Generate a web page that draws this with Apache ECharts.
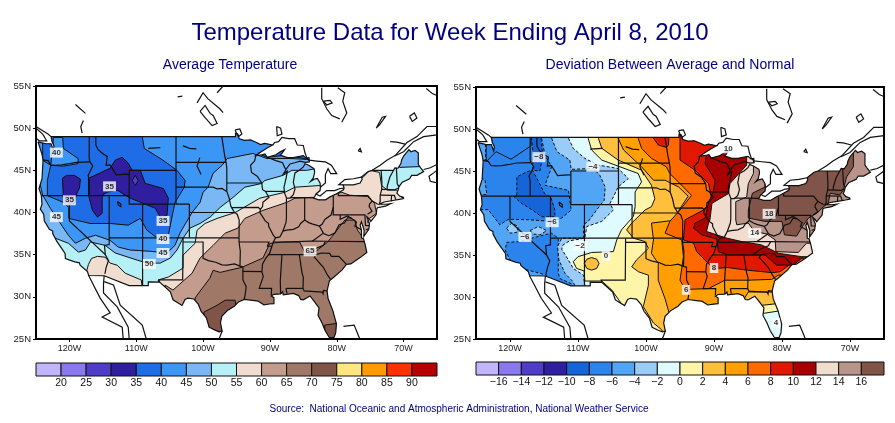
<!DOCTYPE html>
<html>
<head>
<meta charset="utf-8">
<style>html,body{margin:0;padding:0;background:#fff}#chart{width:895px;height:423px}</style>
<script src="https://cdn.jsdelivr.net/npm/echarts@6/dist/echarts.min.js"></script>
</head>
<body>
<div id="chart"></div>
<script>
// all map data is [lon, lat]
var lonTicks = [-120, -110, -100, -90, -80, -70];
var latTicks = [25, 30, 35, 40, 45, 50, 55];

var avgLevels = [15, 20, 25, 30, 35, 40, 45, 50, 55, 60, 65, 70, 75, 80, 85, 90, 95];
var avgColors = ['#c3b5fb', '#8a78ef', '#4f3cc8', '#2f1e9e', '#1f6de6', '#3c96f5', '#7ab8f5', '#b4f0f5', '#f0ddd0', '#c49c8e', '#a07868', '#805448', '#ffe680', '#ff9a00', '#ff3000', '#b80000'];
var devLevels = [-18, -16, -14, -12, -10, -8, -6, -4, -2, 0, 2, 4, 6, 8, 10, 12, 14, 16, 18];
var devColors = ['#c3b5fb', '#8a78ef', '#4f3cc8', '#2f1e9e', '#1565d8', '#2a84ec', '#52a5f5', '#9accfa', '#dffbff', '#fff5a8', '#ffbe3c', '#ffa000', '#ff6a00', '#e01800', '#a80000', '#f0ddd0', '#b8948a', '#805448'];

var usOutline = [[-124.7,48.38],[-123.5,48.15],[-122.75,48.15],[-122.4,47.4],[-122.3,47.9],[-122.6,48.4],[-122.75,49],[-95.15,49],[-95.15,49.38],[-94.8,49.3],[-94.6,48.75],[-93.8,48.55],[-92.9,48.6],[-92,48.3],[-91.4,48.05],[-90.8,48.2],[-89.6,48],[-90.3,47.7],[-91.3,47.2],[-92.1,46.75],[-91.2,46.85],[-90.75,46.95],[-90.4,46.55],[-89.1,46.85],[-88.45,47.2],[-87.8,47.45],[-88.2,47],[-88.45,46.8],[-87.4,46.5],[-86.5,46.5],[-85,46.75],[-84.6,46.45],[-84.15,46.5],[-84.1,46],[-84.7,45.95],[-85.5,46.1],[-86.3,45.9],[-87,45.75],[-87.6,45.1],[-88,44.55],[-87.4,44.9],[-87.55,44.2],[-87.8,43.3],[-87.9,43],[-87.8,42.3],[-87.5,41.7],[-87,41.7],[-86.5,42.1],[-86.25,42.8],[-86.5,43.6],[-86.25,44.7],[-85.6,45],[-85,45.4],[-84.75,45.78],[-84.2,45.6],[-83.4,45.2],[-83.3,44.8],[-83.5,44.1],[-83.9,43.7],[-83.4,43.95],[-82.9,44.05],[-82.5,43.5],[-82.45,43],[-82.5,42.6],[-83.1,42.2],[-83.3,41.9],[-83.45,41.7],[-82.7,41.5],[-81.7,41.5],[-81,41.85],[-80.1,42.2],[-79,42.7],[-78.9,42.9],[-79.05,43.27],[-77.5,43.27],[-76.5,43.5],[-76.2,43.95],[-76.3,44.2],[-75.3,44.85],[-74.7,45],[-71.5,45],[-71.3,45.3],[-70.85,45.25],[-70.4,45.8],[-70.3,46.2],[-70,46.7],[-69.2,47.45],[-68.9,47.2],[-68.3,47.35],[-67.8,47.07],[-67.8,45.7],[-67.45,45.3],[-67,44.85],[-68,44.4],[-68.8,44.4],[-69.1,44],[-70.2,43.6],[-70.7,43.05],[-70.8,42.7],[-71,42.3],[-70.6,41.95],[-70.05,41.8],[-70,41.65],[-70.65,41.55],[-71.4,41.45],[-72.9,41.25],[-73.65,40.98],[-72.6,40.98],[-71.9,41.05],[-72.7,40.75],[-73.9,40.57],[-74,40.45],[-74.1,39.75],[-74.9,38.95],[-75.1,39.2],[-75.5,39.5],[-75.1,38.7],[-75.2,38],[-75.95,37.15],[-75.9,37.9],[-76.3,38.9],[-76.5,38.5],[-76.3,37.9],[-76.3,37],[-76,36.9],[-75.75,36.2],[-75.5,35.25],[-76.5,34.65],[-77.9,33.9],[-78.55,33.85],[-79.2,33.2],[-80.5,32.3],[-81.1,31.9],[-81.45,30.7],[-81.3,29.8],[-80.6,28.4],[-80.05,26.8],[-80.15,25.75],[-80.4,25.2],[-81.1,25.15],[-81.75,26],[-82.2,26.9],[-82.8,27.8],[-82.65,28.7],[-83.4,29.5],[-84,30.1],[-85,29.65],[-85.4,29.7],[-85.7,30.15],[-86.5,30.4],[-88,30.25],[-88.1,30.6],[-88.4,30.35],[-89.4,30.3],[-89.8,30.1],[-89.4,29.9],[-89.4,29.2],[-90.1,29.15],[-90.9,29.05],[-91.8,29.5],[-92.3,29.55],[-93.85,29.7],[-94.7,29.4],[-95.3,28.9],[-96.4,28.35],[-97.2,27.7],[-97.4,26.9],[-97.15,25.95],[-97.6,25.85],[-98.2,26.05],[-99.1,26.4],[-99.5,27.5],[-100.3,28.3],[-100.7,29.1],[-101.4,29.75],[-102.3,29.85],[-102.7,29.7],[-103.15,28.98],[-104.5,29.65],[-104.9,30.6],[-106.5,31.75],[-108.2,31.78],[-108.2,31.33],[-111.07,31.33],[-114.8,32.5],[-117.12,32.53],[-117.3,33],[-118.4,33.75],[-118.5,34.03],[-119.2,34.15],[-120.6,34.55],[-120.65,35.15],[-121.9,36.6],[-122.5,37.5],[-122.5,37.8],[-123,38],[-123.75,39],[-123.85,39.8],[-124.35,40.4],[-124.1,41],[-124.2,42],[-124.55,42.85],[-124.1,44],[-123.95,46.2],[-124.1,46.9],[-124.7,48.38]];

var stateLines = [
  [[-124,46.25],[-123.2,46.15],[-122.8,45.65],[-122.2,45.6],[-121.2,45.65],[-120,45.8],[-119,45.95],[-116.92,46]],
  [[-117.03,49],[-117.04,46.4],[-116.92,46],[-116.5,45.5],[-116.85,44.95],[-117.2,44.4],[-117.03,43.8],[-117.03,42]],
  [[-124.2,42],[-111.05,42]],
  [[-120,42],[-120,39],[-114.63,35],[-114.15,34.3],[-114.5,33.5],[-114.7,32.72]],
  [[-114.05,42],[-114.05,36.2],[-114.75,36.1],[-114.63,35]],
  [[-114.05,37],[-94.62,37]],
  [[-116.05,49],[-116.05,48],[-115.7,47.45],[-114.9,46.9],[-114.35,46.65],[-114.5,45.6],[-113.9,45.65],[-113.45,45.05],[-113,44.45],[-111.5,44.55],[-111.05,44.5]],
  [[-111.05,45],[-104.05,45]],
  [[-111.05,45],[-111.05,41],[-102.05,41]],
  [[-109.05,41],[-109.05,31.33]],
  [[-104.05,49],[-104.05,41]],
  [[-104.05,45.94],[-96.56,45.94]],
  [[-104.05,43],[-98.5,43],[-97.9,42.8],[-97.2,42.85],[-96.45,42.5]],
  [[-102.05,41],[-102.05,37]],
  [[-102.05,40],[-95.3,40]],
  [[-103,37],[-103.05,32],[-106.6,32],[-106.5,31.75]],
  [[-103,36.5],[-100,36.5],[-100,34.56],[-99.2,34.3],[-98.1,34.1],[-97.2,33.8],[-96.4,33.75],[-95.3,33.9],[-94.48,33.64],[-94.04,33.55],[-94.04,32],[-93.55,31.2],[-93.7,30.3],[-93.85,29.7]],
  [[-94.62,37],[-94.62,36.5],[-94.43,35.4],[-94.48,33.64]],
  [[-94.62,36.5],[-90.15,36.5],[-90.37,36],[-89.7,36]],
  [[-95.3,40],[-94.9,39.8],[-94.6,39.1],[-94.62,37]],
  [[-97.2,49],[-96.8,46.9],[-96.56,45.94],[-96.45,45.3],[-96.45,42.5],[-96.1,41.7],[-95.85,40.75],[-95.3,40]],
  [[-96.45,43.5],[-91.22,43.5]],
  [[-95.77,40.58],[-91.73,40.6],[-91.42,40.38]],
  [[-91.22,43.5],[-91.1,42.7],[-90.65,42.5],[-90.15,41.8],[-91.05,41.2],[-91.1,40.7],[-91.42,40.38],[-91.5,40],[-90.7,39],[-90.2,38.7],[-90.2,38.4],[-89.5,37.3],[-89.15,37],[-89.5,36.5],[-89.7,36],[-90.05,35.15],[-90.6,34.6],[-91.1,33.9],[-91.2,33],[-91,32.4],[-91.6,31],[-89.75,31],[-89.8,30.2]],
  [[-92.1,46.75],[-92.3,46.1],[-92.9,45.6],[-92.75,44.75],[-91.9,44.3],[-91.22,43.5]],
  [[-90.65,42.5],[-87.8,42.5]],
  [[-90.4,46.55],[-89.1,46.15],[-88.1,45.9],[-87.8,45.35],[-87.6,45.1]],
  [[-87.53,41.7],[-87.53,39.35],[-87.6,38.8],[-88.05,37.8]],
  [[-89.15,37],[-88.5,37.1],[-88.05,37.8],[-87.5,37.9],[-86.5,38],[-85.7,38.3],[-85.4,38.7],[-84.8,39.1],[-84.2,38.8],[-83.7,38.65],[-82.6,38.4],[-82.2,38.6],[-81.75,39.2],[-80.85,39.7],[-80.52,40.64]],
  [[-87,41.76],[-84.8,41.76],[-83.45,41.73]],
  [[-84.8,41.76],[-84.8,39.1]],
  [[-80.52,41.98],[-80.52,39.72],[-75.79,39.72],[-75.7,38.46],[-75.05,38.45]],
  [[-79.76,42.27],[-79.76,42],[-75.35,42],[-74.7,41.36],[-75.1,41],[-75.15,40.7],[-74.72,40.15],[-75.4,39.8]],
  [[-74.7,41.36],[-73.9,41]],
  [[-75.65,37.95],[-75.25,38.03]],
  [[-79.48,39.72],[-79.48,39.2],[-78.4,39.6],[-77.75,39.3],[-77.05,38.85],[-77.3,38.4],[-76.3,37.95]],
  [[-77.75,39.3],[-78.35,39.4],[-78.85,38.75],[-79.65,38.55],[-80.3,37.55],[-81.2,37.25],[-81.95,37.5]],
  [[-82.6,38.4],[-82,37.55],[-83.68,36.6]],
  [[-75.87,36.55],[-81.68,36.59],[-83.68,36.6],[-88.05,36.5],[-89.5,36.5]],
  [[-81.68,36.59],[-82,36.1],[-83.1,35.75],[-84.3,35]],
  [[-90.3,35],[-83.1,35],[-82.3,35.2],[-81.05,35.15],[-80.8,34.8],[-79.67,34.8],[-78.55,33.85]],
  [[-83.1,35],[-83.35,34.7],[-82,33.5],[-81.4,32.6],[-80.9,32.05]],
  [[-85.6,35],[-85.2,32.85],[-85,32.3],[-85.05,31],[-84.87,30.7],[-82.2,30.57],[-82.05,30.36],[-82,30.75],[-81.45,30.7]],
  [[-87.6,31],[-85.05,31]],
  [[-87.6,31],[-87.45,30.4]],
  [[-88.2,35],[-88.45,31.9],[-88.4,30.35]],
  [[-94.04,33.02],[-91.2,33]],
  [[-73.35,45],[-73.25,43.6],[-73.27,42.75],[-73.5,42.05],[-73.5,41.3],[-73.65,41]],
  [[-71.5,45],[-72.05,44.2],[-72.45,43.1],[-72.46,42.73]],
  [[-73.27,42.75],[-71.3,42.7],[-70.85,42.87]],
  [[-71.08,45.3],[-70.95,43.4],[-70.7,43.07]],
  [[-73.5,42.05],[-71.38,42.02],[-71.15,41.5]],
  [[-71.8,42.02],[-71.85,41.32]]
];

var foreignLines = [
  [[-89.6,48],[-89.3,48.3],[-88.7,48.4],[-88.2,48.9],[-87.2,48.75],[-86.3,48.75],[-85.9,48],[-85,47.95],[-84.8,47.2],[-84.5,46.5],[-84.1,46.2],[-83,46.1],[-81.7,46],[-80.8,45.6],[-80,44.6],[-80.9,44.6],[-81.3,45.2],[-81.7,44.5],[-81.7,43.5],[-82.45,43]],
  [[-83.1,42.2],[-82.5,41.95],[-81.5,42.6],[-80.3,42.6],[-79.5,42.85],[-78.9,42.9]],
  [[-79.05,43.27],[-79.7,43.3],[-78.8,43.9],[-77.5,44],[-76.3,44.2]],
  [[-74.7,45],[-73.5,45.6],[-72.5,46.2],[-71.2,46.8],[-69.5,48.3],[-68,49],[-66.5,50.2],[-65,50.2]],
  [[-71.35,46.7],[-70,47.2],[-68.5,48.4],[-67,49],[-65,49.2]],
  [[-72,48.4],[-71,48.35],[-69.8,48.1]],
  [[-67,45.1],[-66,45.3],[-65,45.7]],
  [[-65,43.5],[-66,43.7],[-66.2,44.3],[-65.5,44.7],[-65,45]],
  [[-66.6,54.7],[-65.7,54.1],[-65.1,53.9]],
  [[-82.25,54.8],[-82.25,53.5],[-81.5,52.3],[-80.75,51.5],[-79.55,51.1]],
  [[-79.85,54.8],[-78.8,54.2],[-79.1,53.2],[-78.5,51.8],[-79.25,50.7]],
  [[-82,53.2],[-81,53.3],[-80.7,53],[-81.5,52.75],[-82,53.2]],
  [[-100.9,53],[-100,54.2],[-99.3,53.5],[-97.5,52.3],[-97,51.85]],
  [[-97.9,54.2],[-97,55]],
  [[-100.45,52],[-99.7,51.25],[-98.65,50.3],[-97.9,50.55],[-98.5,51.5],[-98.95,51.75],[-99.7,52.7],[-100.45,52]],
  [[-103.8,53.7],[-103.1,53.8]],
  [[-119.1,52.8],[-117.6,51.75]],
  [[-117.9,50.9],[-118.3,50.2],[-118.1,49.4]],
  [[-125,50],[-124,49.3],[-123.4,48.5],[-124.5,48.5],[-125,48.8]],
  [[-125,50.2],[-124,49.7],[-123.2,49.3],[-122.75,49]],
  [[-89,50.2],[-88.4,50],[-88.2,49.3],[-88.9,49.1],[-89,50.2]],
  [[-74.1,50],[-73.2,51.3],[-72.7,51.4],[-73.6,50.4],[-74.1,50]],
  [[-69.1,51.4],[-68.4,51.8],[-68,51.2],[-68.7,50.8],[-69.1,51.4]],
  [[-76.8,47.3],[-76.5,47.6],[-76.3,47.2],[-76.8,47.3]],
  [[-95.2,49.8],[-94.5,49.9],[-94.2,49.3],[-94.7,49],[-95,49.4],[-95.2,49.8]],
  [[-112.8,41.3],[-112.3,41],[-112.3,40.7],[-112.7,40.9],[-112.8,41.3]],
  [[-108.2,47.6],[-106.4,47.7]],
  [[-103,47.9],[-102,47.6],[-101,47.55]],
  [[-100.5,46.5],[-100.9,45.5],[-100.3,44.5]],
  [[-79,26.5],[-77.4,26.65],[-77,25.9],[-76.6,25.1]],
  [[-117.15,32.55],[-115.4,29.85],[-113.9,28.1],[-115.1,27.6],[-112.1,26.4],[-111.95,25]],
  [[-114.8,32.5],[-114.9,31.6],[-114.9,30.45],[-112.85,28.8],[-111.2,26.4],[-111.05,25]],
  [[-114.8,31.8],[-113.4,31.4],[-112.4,29],[-109.1,26.65],[-108.5,25]],
  [[-97.15,25.95],[-97.6,25]]
];

var wholeBox = [[-130,20],[-60,20],[-60,60],[-130,60]];

// average temperature contours
var avgOver45 = [[-125.8,45],[-124.6,44.05],[-124,42.05],[-122.85,40.5],[-121.95,39.45],[-121.05,38.35],[-120.15,37.3],[-119.1,36.35],[-117.6,36.95],[-116.1,37.3],[-113.9,36.7],[-112.7,35.9],[-110.9,35.55],[-107.9,35.4],[-105.4,35.2],[-104.2,36.1],[-103.4,37.65],[-101.65,40],[-100.45,41.2],[-100,42.4],[-99.25,43],[-98.5,44.65],[-97.15,45.6],[-96.4,46.4],[-92.55,47],[-90.45,46.4],[-87,46.4],[-84.5,46.3],[-82.25,45.6],[-78.8,46.8],[-70.6,48.5],[-63,51],[-63,24.3],[-125.8,24.3]];
var avgOver50 = [[-124.3,37.65],[-122.1,36.95],[-120.15,36.35],[-118.65,35.3],[-117.6,35.55],[-116.85,36.5],[-114.65,36.1],[-113.15,35.2],[-109.85,34.35],[-108.35,34],[-106.4,34],[-104.9,34.6],[-103.9,35.55],[-103,36.95],[-101.95,38.15],[-100.45,38.7],[-98.95,39.45],[-97.45,40.6],[-95.5,41.8],[-93.75,43],[-91.2,43.45],[-90.75,43.8],[-88.05,44.4],[-86.7,45],[-84.5,45],[-82.1,45.35],[-78.8,47.35],[-71.35,47.95],[-70.6,45.35],[-67.3,45.45],[-63.15,46.2],[-63,24.3],[-125.8,24.3],[-125.8,37.65]];
var avgOver55East = [[-106.7,32],[-105.2,32.35],[-103,33.4],[-103,34.95],[-101.2,36.35],[-100.9,37.9],[-99.7,38.7],[-97.9,39.3],[-95.2,40],[-91.5,41.7],[-87.75,42.4],[-86.25,43],[-82.55,43.2],[-78.5,43.6],[-76.1,44.15],[-75.05,45],[-73.6,44.75],[-73.3,43.2],[-72.4,42.65],[-71.05,42.65],[-70.3,41.8],[-63.1,41.45],[-63,24.3],[-106.7,24.3]];
var avgOver55West = [[-117.6,32.55],[-117.15,33.85],[-116.7,34.55],[-115.8,34.8],[-114.65,34.7],[-113.9,34],[-112.85,33.75],[-111.65,32.8],[-109.25,32],[-109,30.4],[-117.6,30.4]];
var avgOver60 = [[-105.7,31.4],[-104.5,30.8],[-101.65,32.8],[-100.45,34.6],[-98.5,36.1],[-96.7,37.55],[-94.8,38.15],[-93.75,39.3],[-91.05,40.25],[-87.5,41.2],[-86.25,41.7],[-83.6,41.8],[-82.1,41.7],[-79.25,42.4],[-78.05,42.05],[-75.4,41.9],[-74.35,41.1],[-74.05,39.9],[-75.1,39.3],[-75.4,38.85],[-63.1,38.5],[-63,24.3],[-105.7,24.3]];
var avgOver65 = [[-101.2,29.85],[-100.9,30.2],[-99,32.2],[-98.5,33.15],[-97.45,32.9],[-94.2,33.5],[-91.05,34.6],[-90,36.35],[-88.05,36.5],[-85.55,36.5],[-84.8,35.3],[-83.3,35.3],[-81.35,36.5],[-78.8,39.1],[-77.3,39.1],[-76.9,37.9],[-75.8,36.7],[-63.1,36.7],[-63,24.3],[-101.2,24.3]];
var avgOver70Texas = [[-99.85,28.2],[-97.9,29],[-96.7,29.6],[-95.2,29.6],[-94.45,24.3],[-100.45,24.3]];
var avgOver70Florida = [[-81.8,26.65],[-79.55,26.9],[-78.8,24.3],[-81.8,24.3]];
var avgUnder40 = [[-123.6,50.9],[-109,50.9],[-109.1,49],[-108.8,47.6],[-106,46.2],[-103.9,45],[-102.7,43.8],[-102.8,43],[-104.2,41.2],[-104.9,38.5],[-105.2,37.3],[-106.9,37],[-108.4,37.9],[-109.4,39.3],[-111.2,38.5],[-113.9,38.7],[-116.9,38.7],[-120.1,39.3],[-120.1,40.6],[-120.9,41.2],[-123.3,42],[-123.3,43.8],[-122.8,45.6],[-124,46.2],[-124,49]];
var avgPocketWash = [[-121,48.9],[-120.9,47.6],[-118.7,46.4],[-118.7,45.8],[-120.9,45.5],[-122.8,45.6],[-122.5,47.6],[-122.4,48.9]];
var avgUnder40Superior = [[-91.8,47],[-88.8,48.1],[-85.55,47.7],[-84.35,46.3],[-87.5,46.8],[-90.45,46.55]];
var avgUnder35West = [[-121.05,44.05],[-120.45,44.4],[-119.25,44.4],[-118.35,43.95],[-118.5,42.9],[-119,42.05],[-119.25,41.1],[-120.15,41.1],[-120.9,41.7]];
var avgUnder35Rockies = [[-117.15,44.05],[-113.9,45.25],[-113.15,46.2],[-112.1,46.55],[-111.2,45.85],[-110.6,45],[-109.4,45],[-108.65,43.45],[-105.95,42.85],[-105.2,41.7],[-105.4,39.65],[-106.4,39.45],[-107.15,40.5],[-107.45,40.6],[-110.9,41.7],[-112.85,42.65],[-114.35,42.4],[-115.1,42.05],[-115.1,39.9],[-115.8,39.45],[-116.55,40.25],[-117.15,42.05]];
var avgUnder30 = [[-110.6,43.8],[-110.15,44.4],[-109.7,43.8],[-110.15,43.2]];

// deviation contours
var devWashLine = [[-123.5,46.1],[-122.05,47.3],[-119.85,46.4],[-116.9,48],[-116.9,50],[-123.5,50]];
var devOverM6 = [[-115.35,48.9],[-114.86,46.9],[-113.87,45.5],[-114.86,43.3],[-111.4,42.7],[-111,40.35],[-112.4,39.4],[-113.9,39],[-117.3,39.2],[-120.25,39.25],[-121.5,38.6],[-123.2,40.4],[-124.7,40.4],[-125.1,38],[-122.2,35.2],[-119.8,33.4],[-117.3,32.4],[-114.9,32.4],[-114.6,32.6],[-117.8,33.3],[-120,34.4],[-120.7,35.6],[-120.5,36.5],[-118.5,36.6],[-116.8,37],[-113.9,37.6],[-112.9,37],[-112.9,32.8],[-112.65,32.2],[-110.9,31.55],[-110,30.4],[-100,24],[-60,24],[-60,60],[-115.35,60]];
var devCoastWash = [[-125,49],[-123.8,49],[-123.6,48.1],[-123.6,46.3],[-125,46.3]];
var devCoastOregon = [[-125,44.3],[-123.7,44],[-123.4,42.2],[-125,42.2]];
var devOverM4 = [[-113.87,48.9],[-113.1,47.3],[-111.2,46.3],[-111,45.2],[-107.75,45.3],[-106.8,44.5],[-106,43.1],[-106.15,41.5],[-106.9,40.75],[-108.5,39],[-109.2,38.6],[-109.2,37],[-112.4,37],[-113,36],[-112.8,34.4],[-111.9,32.8],[-110.7,31.8],[-110,30.4],[-100,24],[-60,24],[-60,60],[-113.87,60]];
var devPocketSierra = [[-120.5,38.2],[-119.75,38.8],[-118.8,38.4],[-119,37.7],[-120,37.6]];
var devPocketNevada = [[-117.05,37.9],[-115.85,38.4],[-114.6,37.9],[-115.6,37.4],[-116.55,37.5]];
var devOverM2 = [[-111.4,48.9],[-110.7,47.7],[-109,46.5],[-107,45.7],[-104.1,45.3],[-102.6,44.1],[-104.1,43.1],[-104.8,41.9],[-105.3,41.15],[-104.8,40.36],[-106.5,39],[-108.7,38.4],[-109,37],[-111.2,36.7],[-112.2,36.2],[-112.4,35.7],[-111.7,34.8],[-110.7,33.4],[-109.2,32.6],[-109,31.4],[-105,24],[-60,24],[-60,60],[-111.4,60]];
var devOver0 = [[-108.5,48.9],[-108,47.5],[-106.5,46.3],[-101.15,44.7],[-100.65,43.7],[-101.6,42.5],[-101.6,40.75],[-101.85,39.6],[-103.6,38],[-104.3,36.8],[-104.8,35.4],[-108,35.3],[-110,34.8],[-110.7,34.2],[-110.2,33.4],[-109.1,33.1],[-109,31.9],[-106.5,31.9],[-105,30.8],[-100,25],[-82.75,28.05],[-79.55,28.45],[-60,28.5],[-60,60],[-108.5,60]];
var devOver2 = [[-107,48.9],[-106.5,47.7],[-104.1,46.3],[-100.65,45.1],[-99.2,43.3],[-98.7,41.7],[-99.2,40.75],[-100.15,40.35],[-102.1,38.8],[-102.85,38],[-101.85,37],[-100.15,36.6],[-99.65,35.8],[-101.4,34.4],[-102.1,33.6],[-101.1,33],[-99.65,32.6],[-99.65,31.4],[-100.4,28.85],[-98.9,26.9],[-97.7,26.1],[-97,25],[-83,29],[-80.3,29.25],[-60,29.5],[-60,60],[-107,60]];
var devOver2Blob = [[-109.07,34],[-108.7,34.5],[-108,34.7],[-107.25,34.5],[-106.9,34],[-107.25,33.4],[-108,33.2],[-108.7,33.4]];
var devOver4 = [[-104.1,48.9],[-103.3,47.5],[-100.65,45.5],[-98.9,43.9],[-97.2,43.9],[-95.2,43.1],[-93.8,42],[-95.15,40.35],[-95.7,39.15],[-99.2,38.8],[-98.9,36.8],[-99.2,35.2],[-98.2,34],[-98.2,32],[-97.2,29.8],[-96.6,28.1],[-96,26.5],[-92.3,28.5],[-85.7,29.6],[-84.95,30.6],[-81.27,30.6],[-80.3,30.8],[-60,31],[-60,60],[-104.1,60]];
var devOver6 = [[-101.15,48.9],[-100.65,47.7],[-99.2,46.5],[-97,45.5],[-96.5,44.7],[-95,43.5],[-93.3,42.1],[-95,40.35],[-96.5,39],[-97.2,37.6],[-94.75,36.8],[-94.5,34.8],[-95,32],[-94.25,30.9],[-90.8,31],[-88.4,32],[-85,32],[-81.5,32.1],[-80.55,32.6],[-60,33],[-60,60],[-101.15,60]];
var devOver8 = [[-95,48.9],[-95,46.3],[-92.8,45.1],[-90.8,43.5],[-90.3,41.5],[-91.55,40.35],[-94.25,39.2],[-94.5,36.8],[-93,36.4],[-92.55,35.4],[-91.1,34.2],[-90.1,33.4],[-87.9,33.5],[-85.2,33.2],[-81.5,32.9],[-80.3,33],[-77.6,34.6],[-60,35],[-60,60],[-95,60]];
var devOver8Dakota = [[-98.9,48.9],[-98.2,48.1],[-97,47.8],[-96.7,48.1],[-96.6,49.5],[-99,49.5]];
var devOver10 = [[-91.1,47.1],[-91.3,45.9],[-89.85,43.9],[-90.1,42.5],[-90.8,41.3],[-91.3,39.4],[-92.8,38.8],[-93,38.2],[-91.8,37.4],[-89.6,36.9],[-89.35,35.4],[-87.9,35],[-82.5,35],[-80.8,33.8],[-78.3,33.8],[-76.85,34.8],[-60,35],[-60,55],[-85,55],[-85.2,46.7],[-87.9,47.7],[-90.3,47.5]];
var devOver12 = [[-85.2,45.7],[-87.65,43.5],[-87.9,42.3],[-90.3,41.15],[-90.6,39.16],[-90.8,38.8],[-91.1,37.8],[-89.6,37.4],[-88.1,37],[-85.9,36.6],[-83,36.2],[-80.5,35.2],[-77.1,34.8],[-60,34.8],[-60,55],[-85.2,55]];
var devOver14 = [[-84.2,44.7],[-84.95,43.5],[-85.2,41.9],[-86.8,41.35],[-86.8,39.16],[-86.65,38.6],[-84.95,38.8],[-84.05,37.8],[-82.25,37.5],[-81,36.8],[-80.9,35.4],[-77.6,35.3],[-76.4,36.4],[-60,36.4],[-60,55],[-84.2,55]];
var devOver16 = [[-82.5,43.1],[-84.35,42.35],[-84.95,40.35],[-84.95,39.4],[-82.5,39],[-80,39],[-79.65,37.4],[-77.85,37.25],[-77,38.4],[-76.1,39.4],[-74.9,39.96],[-73.9,40.75],[-73.2,41.15],[-72.9,42.35],[-71.5,42.15],[-71,42.7],[-70.5,44.3],[-69.5,45.5],[-69.5,47.1],[-71.7,47.9],[-82.5,50]];
var devUnder8 = [[-119,42.1],[-119,44.3],[-117.55,44.9],[-116.7,45.1],[-115.9,43.9],[-114.9,42.3],[-114,41.9],[-113.4,40.35],[-113.4,39.55],[-115.35,39.55],[-116.7,40.35],[-118.3,41.15],[-119.5,42]];
var devUnder8North = [[-116.9,49.5],[-115.5,49.5],[-115.2,46.9],[-115.6,45],[-116.7,45.1],[-116.6,47]];

var avgLabels = [[-121.95,47.1,'40'],[-120,41.45,'35'],[-114,43.1,'35'],[-121.95,39.45,'45'],[-106,39,'35'],[-106,36.85,'40'],[-106,35.2,'45'],[-108.05,33.9,'50'],[-84,35.4,'65']];
var devLabels = [[-115.75,46.65,'−8'],[-107.8,45.5,'−4'],[-113.8,38.9,'−6'],[-117.8,37.15,'−6'],[-109.7,36.05,'−2'],[-105.9,34.9,'0'],[-80.9,26.9,'4'],[-84,37.6,'14'],[-81.9,39.9,'18'],[-87.9,47.7,'10'],[-90,33.45,'8'],[-94.1,30.85,'6']];

// painter's order, warm regions first then the cold ones on top
var avgBands = [
  {ring: wholeBox, color: avgColors[5], line: false},
  {ring: avgOver45, color: avgColors[6]},
  {ring: avgOver50, color: avgColors[7]},
  {ring: avgOver55East, color: avgColors[8]},
  {ring: avgOver55West, color: avgColors[8]},
  {ring: avgOver60, color: avgColors[9]},
  {ring: avgOver65, color: avgColors[10]},
  {ring: avgOver70Texas, color: avgColors[11]},
  {ring: avgOver70Florida, color: avgColors[11]},
  {ring: avgUnder40, color: avgColors[4]},
  {ring: avgPocketWash, color: avgColors[5]},
  {ring: avgUnder40Superior, color: avgColors[4]},
  {ring: avgUnder35West, color: avgColors[3]},
  {ring: avgUnder35Rockies, color: avgColors[3]},
  {ring: avgUnder30, color: avgColors[2]}
];
var devBands = [
  {ring: wholeBox, color: devColors[5], line: false},
  {ring: devWashLine, color: devColors[5]},
  {ring: devOverM6, color: devColors[6], dash: true},
  {ring: devCoastWash, color: devColors[6], dash: true},
  {ring: devCoastOregon, color: devColors[6], dash: true},
  {ring: devOverM4, color: devColors[7], dash: true},
  {ring: devPocketSierra, color: devColors[7], dash: true},
  {ring: devPocketNevada, color: devColors[7], dash: true},
  {ring: devOverM2, color: devColors[8], dash: true},
  {ring: devOver0, color: devColors[9]},
  {ring: devOver2, color: devColors[10]},
  {ring: devOver2Blob, color: devColors[10]},
  {ring: devOver4, color: devColors[11]},
  {ring: devOver6, color: devColors[12]},
  {ring: devOver8, color: devColors[13]},
  {ring: devOver8Dakota, color: devColors[13]},
  {ring: devOver10, color: devColors[14]},
  {ring: devOver12, color: devColors[15]},
  {ring: devOver14, color: devColors[16]},
  {ring: devOver16, color: devColors[17]},
  {ring: devUnder8, color: devColors[4], dash: true},
  {ring: devUnder8North, color: devColors[4], dash: true}
];

// the fills run over Lake Michigan, so the clip skips that stretch of the shore
var shoreFrom = usOutline.findIndex(function (p) { return p[0] === -84.7; });
var shoreTo = usOutline.findIndex(function (p) { return p[0] === -84.75; });
var fillOutline = usOutline.slice(0, shoreFrom + 1).concat(usOutline.slice(shoreTo));

var allLines = [usOutline].concat(stateLines, foreignLines);
var fontName = 'Arial, "Liberation Sans", sans-serif';
var navy = '#000080';

function mapAxes(index) {
  return {
    x: {
      type: 'value', gridIndex: index, min: -125, max: -65,
      splitLine: {show: false},
      axisLine: {show: false},
      axisTick: {show: true, length: 3, customValues: lonTicks, lineStyle: {color: '#000'}},
      axisLabel: {customValues: lonTicks, color: '#222', fontSize: 9, fontFamily: fontName, margin: 5,
        formatter: function (v) { return (-v) + 'W'; }}
    },
    y: {
      type: 'value', gridIndex: index, min: 25, max: 55,
      splitLine: {show: false},
      axisLine: {show: false},
      axisTick: {show: true, length: 3, customValues: latTicks, lineStyle: {color: '#000'}},
      axisLabel: {customValues: latTicks, color: '#222', fontSize: 9.5, fontFamily: fontName, margin: 5,
        formatter: function (v) { return v + 'N'; }}
    }
  };
}

function legendAxes(index, levels) {
  return {
    x: {
      type: 'value', gridIndex: index, min: levels[0], max: levels[levels.length - 1],
      interval: levels[1] - levels[0],
      splitLine: {show: false}, axisLine: {show: false}, axisTick: {show: false},
      axisLabel: {color: '#111', fontSize: 10.5, fontFamily: fontName, margin: 2, showMinLabel: false, showMaxLabel: false,
        formatter: function (v) { return v < 0 ? '−' + (-v) : '' + v; }}
    },
    y: {type: 'value', gridIndex: index, min: 0, max: 1, show: false}
  };
}

function mapSeries(index, bands, labels) {
  return [
    {
      type: 'custom', xAxisIndex: index, yAxisIndex: index, z: 2, silent: true, animation: false,
      data: bands.map(function (b, i) { return [i, i]; }),
      renderItem: function (params, api) {
        var band = bands[params.dataIndex];
        return {
          type: 'polygon',
          shape: {points: band.ring.map(function (p) { return api.coord(p); })},
          clipPath: {type: 'polygon', shape: {points: fillOutline.map(function (p) { return api.coord(p); })}},
          style: {
            fill: band.color,
            stroke: band.line === false ? null : '#111',
            lineWidth: 1,
            lineDash: band.dash ? [3, 2] : null
          }
        };
      }
    },
    {
      type: 'custom', xAxisIndex: index, yAxisIndex: index, z: 3, silent: true, animation: false, clip: true,
      data: allLines.map(function (l, i) { return [i, i]; }),
      renderItem: function (params, api) {
        return {
          type: 'polyline',
          shape: {points: allLines[params.dataIndex].map(function (p) { return api.coord(p); })},
          style: {fill: null, stroke: '#111', lineWidth: 1.2}
        };
      }
    },
    {
      type: 'scatter', xAxisIndex: index, yAxisIndex: index, z: 4, silent: true, animation: false,
      symbolSize: 1, itemStyle: {color: 'rgba(0,0,0,0)'},
      data: labels,
      label: {
        show: true, position: 'inside', color: '#000', backgroundColor: '#fff', padding: [1, 2],
        fontSize: 8, fontWeight: 'bold', fontFamily: fontName,
        formatter: function (p) { return p.value[2]; }
      }
    }
  ];
}

function legendSeries(index, levels, colors) {
  return {
    type: 'custom', xAxisIndex: index, yAxisIndex: index, z: 2, silent: true, animation: false,
    data: colors.map(function (c, i) { return [levels[i], levels[i + 1]]; }),
    renderItem: function (params, api) {
      var a = api.coord([api.value(0), 1]);
      var b = api.coord([api.value(1), 0]);
      return {
        type: 'rect',
        shape: {x: a[0], y: a[1], width: b[0] - a[0], height: b[1] - a[1]},
        style: {fill: colors[params.dataIndex], stroke: '#111', lineWidth: 1}
      };
    }
  };
}

var axes = [mapAxes(0), mapAxes(1), legendAxes(2, avgLevels), legendAxes(3, devLevels)];

var option = {
  backgroundColor: '#fff',
  title: [
    {text: 'Temperature Data for Week Ending April 8, 2010', left: 445, top: 16, textAlign: 'center',
      textStyle: {color: navy, fontSize: 24, fontWeight: 'normal', fontFamily: fontName}},
    {text: 'Average Temperature', left: 225, top: 53, textAlign: 'center',
      textStyle: {color: navy, fontSize: 14, fontWeight: 'normal', fontFamily: fontName}},
    {text: 'Deviation Between Average and Normal', left: 665, top: 53, textAlign: 'center',
      textStyle: {color: navy, fontSize: 14, fontWeight: 'normal', fontFamily: fontName}},
    {text: 'Source:  National Oceanic and Atmospheric Administration, National Weather Service', left: 454, top: 399, textAlign: 'center',
      textStyle: {color: navy, fontSize: 10, fontWeight: 'normal', fontFamily: fontName}}
  ],
  grid: [
    {left: 36, top: 86, width: 401, height: 253, show: true, borderColor: '#000', borderWidth: 2, backgroundColor: '#fff'},
    {left: 476, top: 87, width: 408, height: 252, show: true, borderColor: '#000', borderWidth: 2, backgroundColor: '#fff'},
    {left: 36, top: 363, width: 401, height: 13},
    {left: 476, top: 362, width: 408, height: 13}
  ],
  xAxis: axes.map(function (a) { return a.x; }),
  yAxis: axes.map(function (a) { return a.y; }),
  series: mapSeries(0, avgBands, avgLabels)
    .concat(mapSeries(1, devBands, devLabels))
    .concat([legendSeries(2, avgLevels, avgColors), legendSeries(3, devLevels, devColors)])
};

var myChart = echarts.init(document.getElementById('chart'), null, {renderer: 'canvas'});
myChart.setOption(option);
</script>
</body>
</html>
